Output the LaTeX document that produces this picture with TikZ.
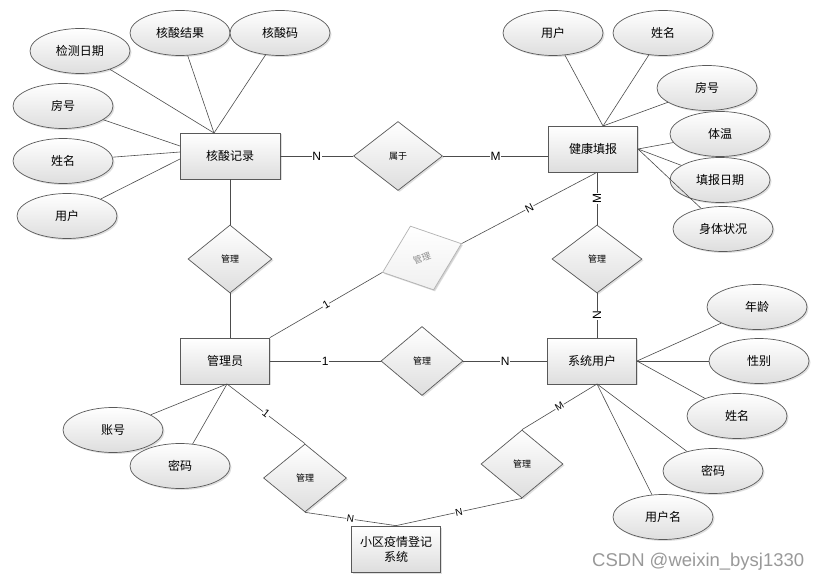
\documentclass[tikz,border=0pt]{standalone}
\usepackage{fontspec}
\setmainfont{Liberation Sans}
\newfontfamily\cjk{Noto Sans CJK SC}
\usetikzlibrary{shapes.geometric,shadows,calc}
\begin{document}
\begin{tikzpicture}[x=1pt,y=-1pt,
 base/.style={draw=black!65, line width=0.7pt, top color=white, bottom color=black!13,
   drop shadow={shadow xshift=1.5pt, shadow yshift=-1.5pt, opacity=0.25}},
 ent/.style={base, rectangle, minimum width=89pt, minimum height=46pt, inner sep=0pt,
   font=\cjk\fontsize{12}{15}\selectfont, align=center},
 attr/.style={base, ellipse, minimum width=100pt, minimum height=45pt, inner sep=0pt,
   font=\cjk\fontsize{12}{14}\selectfont},
 rel/.style={base, diamond, minimum width=84pt, minimum height=68pt, inner sep=0pt,
   font=\cjk\fontsize{9}{11}\selectfont},
 ln/.style={draw=black!70, line width=0.6pt},
 lab/.style={font=\fontsize{12}{14}\selectfont, fill=white, inner sep=0.6pt},
 slab/.style={lab, sloped, font=\fontsize{10}{12}\selectfont}]
\useasboundingbox[fill=white] (0,0) rectangle (823,580);

% entities
\node[ent, minimum width=100pt] (hs) at (230,156) {核酸记录};
\node[ent] (jk) at (593,149) {健康填报};
\node[ent] (gl) at (225,361) {管理员};
\node[ent] (sy) at (592,361) {系统用户};
\node[ent, minimum height=46pt] (xq) at (396,549) {小区疫情登记\\系统};

% relationships
\node[rel, minimum width=89pt, minimum height=69pt] (sh) at (398,156) {属于};
\node[rel] (lm) at (230,259) {管理};
\node[rel, minimum width=90pt] (rm) at (597,259) {管理};
\node[rel, minimum width=82pt, minimum height=69pt] (mm) at (422,361) {管理};
\node[rel, minimum width=83pt] (ll) at (305,478) {管理};
\node[rel, minimum width=82pt] (lr) at (522,464) {管理};
\node[rel, rotate=20, draw=black!30, bottom color=black!6, text=black!45,
  drop shadow={shadow xshift=1pt, shadow yshift=-1pt, opacity=0.12}] (gm) at (422,258) {管理};

% attributes of 核酸记录
\node[attr] (a1) at (80,51) {检测日期};
\node[attr] (a2) at (180,33) {核酸结果};
\node[attr] (a3) at (280,33) {核酸码};
\node[attr] (a4) at (63,106) {房号};
\node[attr] (a5) at (63,161) {姓名};
\node[attr] (a6) at (67,216) {用户};
\coordinate (hsT) at (214,133);
\coordinate (hsL1) at (180,146);
\coordinate (hsL2) at (180,152);
\coordinate (hsL3) at (180,159);
\draw[ln] (a1) -- (hsT);
\draw[ln] (a2) -- (hsT);
\draw[ln] (a3) -- (hsT);
\draw[ln] (a4) -- (hsL1);
\draw[ln] (a5) -- (hsL2);
\draw[ln] (a6) -- (hsL3);

% attributes of 健康填报
\node[attr] (b1) at (553,33) {用户};
\node[attr] (b2) at (663,33) {姓名};
\node[attr] (b3) at (707,88) {房号};
\node[attr] (b4) at (720,134) {体温};
\node[attr] (b5) at (720,180) {填报日期};
\node[attr] (b6) at (723,229) {身体状况};
\coordinate (jkT) at (603,126);
\coordinate (jkR) at (638,149);
\draw[ln] (b1) -- (jkT);
\draw[ln] (b2) -- (jkT);
\draw[ln] (b3) -- (jkT);
\draw[ln] (b4) -- (jkR);
\draw[ln] (b5) -- (jkR);
\draw[ln] (b6) -- (jkR);

% attributes of 系统用户
\node[attr] (c1) at (757,307) {年龄};
\node[attr] (c2) at (759,361) {性别};
\node[attr] (c3) at (737,416) {姓名};
\node[attr] (c4) at (713,471) {密码};
\node[attr] (c5) at (663,517) {用户名};
\coordinate (syR) at (637,361);
\coordinate (syB) at (597,384);
\draw[ln] (c1) -- (syR);
\draw[ln] (c2) -- (syR);
\draw[ln] (c3) -- (syR);
\draw[ln] (c4) -- (syB);
\draw[ln] (c5) -- (syB);

% attributes of 管理员
\node[attr] (d1) at (113,430) {账号};
\node[attr] (d2) at (180,466) {密码};
\coordinate (glB) at (227,384);
\draw[ln] (d1) -- (glB);
\draw[ln] (d2) -- (glB);

% relationship connectors
\draw[ln] (hs.east) -- node[lab]{N} (sh.west);
\draw[ln] (sh.east) -- node[lab]{M} (sh.east -| jk.west);
\draw[ln] (lm.north) -- (lm.north |- hs.south);
\draw[ln] (lm.south) -- (lm.south |- gl.north);
\draw[ln] (rm.north |- jk.south) -- node[lab, rotate=90]{M} (rm.north);
\draw[ln] (rm.south) -- node[lab, rotate=90]{N} (rm.south |- sy.north);
\draw[ln] (gl.north east) -- node[slab, font=\fontsize{11}{13}\selectfont]{1} (gm.west);
\draw[ln] (gm.east) -- node[slab, font=\fontsize{11}{13}\selectfont]{N} (rm.north |- jk.south);
\draw[ln] (gl.east) -- node[lab]{1} (mm.west);
\draw[ln] (mm.east) -- node[lab]{N} (sy.west);
\draw[ln] (glB) -- node[slab, font=\fontsize{11}{13}\selectfont]{1} (ll.north);
\draw[ln] (ll.south) -- node[slab]{N} (xq.north);
\draw[ln] (xq.north) -- node[slab]{N} (lr.south);
\draw[ln] (lr.north) -- node[slab]{M} (syB);

% watermark
\node[anchor=base west, inner sep=0pt, text=black!40, font=\fontsize{18.5}{20}\selectfont] (wm) at (592,566) {CSDN @weixin\_bysj1330};
\end{tikzpicture}
\end{document}
